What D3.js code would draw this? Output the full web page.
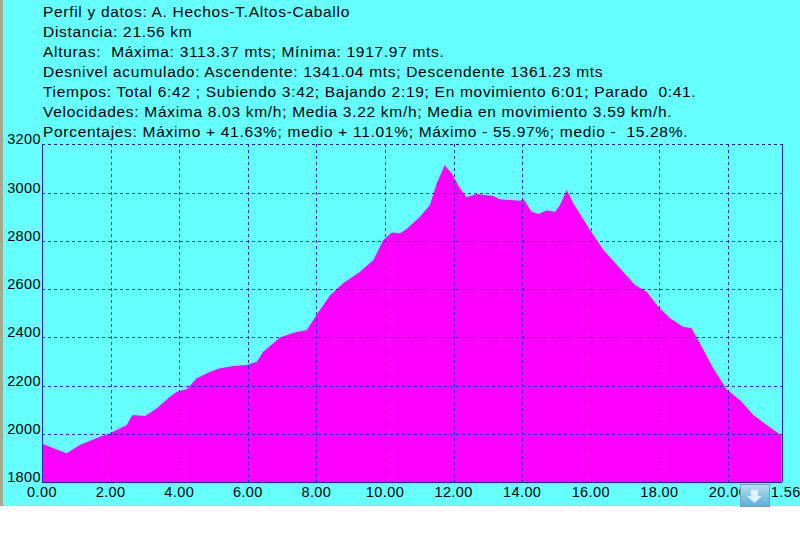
<!DOCTYPE html>
<html>
<head>
<meta charset="utf-8">
<script src="https://cdn.jsdelivr.net/npm/d3@7"></script>
<style>
  html, body { margin: 0; padding: 0; background: #ffffff; }
  svg { display: block; }
  text { white-space: pre; }
</style>
</head>
<body>
<svg id="chart" width="800" height="557"></svg>
<script>
// ---- data ----
const headerLines = [
  "Perfil y datos: A. Hechos-T.Altos-Caballo",
  "Distancia: 21.56 km",
  "Alturas:  Máxima: 3113.37 mts; Mínima: 1917.97 mts.",
  "Desnivel acumulado: Ascendente: 1341.04 mts; Descendente 1361.23 mts",
  "Tiempos: Total 6:42 ; Subiendo 3:42; Bajando 2:19; En movimiento 6:01; Parado  0:41.",
  "Velocidades: Máxima 8.03 km/h; Media 3.22 km/h; Media en movimiento 3.59 km/h.",
  "Porcentajes: Máximo + 41.63%; medio + 11.01%; Máximo - 55.97%; medio -  15.28%."
];
const xTicks = [0, 2, 4, 6, 8, 10, 12, 14, 16, 18, 20, 21.56];
const yTicks = [1800, 2000, 2200, 2400, 2600, 2800, 3000, 3200];
const distKm = [0, 0.33, 0.72, 1.1, 1.69, 1.98, 2.47, 2.61, 2.66, 3.0, 3.34, 3.73, 3.93, 4.22, 4.51, 4.9, 5.19, 5.58, 5.97, 6.26, 6.45, 6.74, 6.94, 7.33, 7.72, 7.91, 8.1, 8.4, 8.78, 9.27, 9.66, 9.95, 10.2, 10.44, 10.62, 11.02, 11.31, 11.51, 11.74, 11.94, 12.19, 12.38, 12.67, 13.16, 13.35, 13.94, 14.04, 14.12, 14.27, 14.47, 14.71, 14.96, 15.1, 15.3, 15.49, 15.98, 16.37, 16.85, 17.29, 17.63, 17.97, 18.31, 18.69, 18.94, 19.18, 19.57, 19.96, 20.4, 20.74, 21.13, 21.56];
const elevM = [1961, 1941, 1920, 1954, 1989, 2003, 2037, 2072, 2079, 2075, 2106, 2154, 2175, 2185, 2231, 2258, 2272, 2282, 2286, 2299, 2341, 2376, 2400, 2419, 2431, 2472, 2513, 2575, 2624, 2672, 2720, 2803, 2834, 2831, 2848, 2900, 2948, 3038, 3113, 3080, 3017, 2980, 2994, 2985, 2972, 2966, 2972, 2955, 2921, 2911, 2925, 2920, 2948, 3010, 2955, 2845, 2762, 2686, 2617, 2589, 2527, 2479, 2444, 2438, 2376, 2272, 2185, 2134, 2079, 2037, 1994];

// ---- layout ----
const svg = d3.select("#chart");
const W = 800, bgH = 506;
const plot = { left: 42, right: 781.5, top: 144.2, bottom: 482.3 };
const font = "'Liberation Sans', Arial, sans-serif";

svg.append("rect").attr("x", 0).attr("y", 0).attr("width", W).attr("height", bgH).attr("fill", "#66ffff");
svg.append("rect").attr("x", 0).attr("y", 0).attr("width", 3).attr("height", bgH).attr("fill", "#a8a890");

const x = d3.scaleLinear().domain([0, 21.56]).range([plot.left, plot.right]);
const y = d3.scaleLinear().domain([1800, 3200]).range([plot.bottom, plot.top]);

const data = distKm.map((d, i) => ({ d, e: elevM[i] }));

// area
const area = d3.area().x(p => x(p.d)).y0(y(1800)).y1(p => y(p.e));
svg.append("path").datum(data).attr("d", area).attr("fill", "#ff00ff");

// grid
const grid = svg.append("g").attr("stroke", "#2b2bc8").attr("stroke-width", 1)
  .attr("stroke-dasharray", "3,3").attr("shape-rendering", "crispEdges");
grid.selectAll("line.v").data(xTicks.filter(t => t > 0 && t < 21.56)).enter().append("line")
  .attr("x1", t => Math.round(x(t)) + 0.5).attr("x2", t => Math.round(x(t)) + 0.5)
  .attr("y1", plot.top).attr("y2", plot.bottom);
grid.selectAll("line.h").data(yTicks.filter(t => t > 1800)).enter().append("line")
  .attr("x1", plot.left).attr("x2", plot.right)
  .attr("y1", t => Math.round(y(t)) + 0.5).attr("y2", t => Math.round(y(t)) + 0.5)
  .attr("stroke", t => t === 3200 ? "#1a1a9a" : "#2b2bc8");

// axes (solid)
const axes = svg.append("g").attr("stroke", "#2424c0").attr("stroke-width", 1).attr("shape-rendering", "crispEdges");
axes.append("line").attr("x1", plot.left + 0.5).attr("x2", plot.left + 0.5).attr("y1", plot.top).attr("y2", plot.bottom);
axes.append("line").attr("x1", plot.left).attr("x2", plot.right).attr("y1", Math.round(plot.bottom) + 0.5).attr("y2", Math.round(plot.bottom) + 0.5);
axes.append("line").attr("x1", Math.round(plot.right) + 0.5).attr("x2", Math.round(plot.right) + 0.5).attr("y1", plot.top).attr("y2", plot.bottom);

// y tick labels
svg.append("g").selectAll("text").data(yTicks).enter().append("text")
  .attr("x", 41).attr("y", t => y(t))
  .attr("text-anchor", "end").attr("font-family", font).attr("font-size", 14.5)
  .attr("letter-spacing", 0.4)
  .attr("fill", "#000").text(t => t);

// x tick labels
svg.append("g").selectAll("text").data(xTicks).enter().append("text")
  .attr("x", t => x(t)).attr("y", 496.5)
  .attr("text-anchor", "middle").attr("font-family", font).attr("font-size", 14.5)
  .attr("letter-spacing", 0.4)
  .attr("fill", "#000").text(t => t.toFixed(2));

// header text
svg.append("g").selectAll("text").data(headerLines).enter().append("text")
  .attr("x", 43).attr("y", (d, i) => 17 + i * 20)
  .attr("font-family", font).attr("font-size", 15.5)
  .attr("letter-spacing", 0.7)
  .attr("fill", "#000").text(d => d);

// little scroll button overlay (bottom right)
const btn = svg.append("g");
const grad = svg.append("defs").append("linearGradient").attr("id", "bg").attr("x1", 0).attr("y1", 0).attr("x2", 0).attr("y2", 1);
grad.append("stop").attr("offset", "0%").attr("stop-color", "#b8dff0");
grad.append("stop").attr("offset", "100%").attr("stop-color", "#5aaed8");
btn.append("rect").attr("x", 740.5).attr("y", 484.5).attr("width", 29).attr("height", 22)
  .attr("fill", "url(#bg)").attr("stroke", "#7f9fb0").attr("stroke-width", 1);
btn.append("path").attr("d", "M751,490 h7 v6 h4 l-7.5,7 l-7.5,-7 h4 z").attr("fill", "#e8f6ff").attr("opacity", 0.9);
</script>
</body>
</html>
